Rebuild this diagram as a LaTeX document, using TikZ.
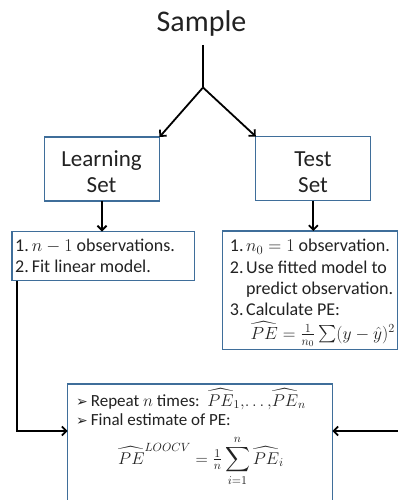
\documentclass[tikz,border=0pt]{standalone}
\usepackage{fix-cm}
\usepackage{amsmath}
\usepackage{fontspec}
\setmainfont{Carlito}
\newfontfamily\dejavu{DejaVu Sans}
\usetikzlibrary{arrows.meta}
\definecolor{boxblue}{HTML}{3F6E9A}
\definecolor{ink}{HTML}{222222}
\begin{document}
\begin{tikzpicture}[x=1pt,y=-1pt,
  box/.style={draw=boxblue,line width=1.1pt,inner sep=0pt,outer sep=0pt,fill=white},
  conn/.style={line width=1.8pt,draw=black},
  arr/.style={conn,-{Straight Barb[length=4.5pt,width=9pt]}},
  txt/.style={anchor=base west,inner sep=0pt,text=ink,font=\fontsize{18}{21}\selectfont},
  stxt/.style={anchor=base west,inner sep=0pt,text=ink,font=\fontsize{17}{20}\selectfont},
  big/.style={anchor=base,inner sep=0pt,text=ink,font=\fontsize{23}{28}\selectfont},
  title/.style={anchor=base,inner sep=0pt,text=ink,font=\fontsize{30}{36}\selectfont},
  frm/.style={anchor=base,inner sep=0pt,text=ink,font=\fontsize{17}{20}\selectfont}]
\useasboundingbox (0,0) rectangle (398,500);
\clip (0,0) rectangle (398,500);
% title
\node[title] (sample) at (201.5,32) {Sample};
\coordinate (stem) at (203,45);
\coordinate (fork) at (203,87.5);
% boxes
\node[box,minimum width=115pt,minimum height=64pt] (learn) at (102,169) {};
\node[box,minimum width=115pt,minimum height=64pt] (test) at (313.3,168.5) {};
\node[box,minimum width=182.5pt,minimum height=49pt] (box1) at (103.25,256) {};
\node[box,minimum width=175pt,minimum height=118.5pt] (box2) at (310,290.25) {};
\node[box,minimum width=264.6pt,minimum height=140pt] (box3) at (200,454) {};
% box texts
\node[big] (learnA) at (101.5,166.7) {Learning};
\node[big] (learnB) at (101.5,192.7) {Set};
\node[big] (testA) at (313,166.7) {Test};
\node[big] (testB) at (313,192.7) {Set};
\node[txt] (b1a) at (15,251.7) {1.\,$n-1$ observations.};
\node[txt] (b1b) at (15,272) {2.\,Fit linear model.};
\node[txt] (b2a) at (229.7,251.7) {\makebox[16.3pt][l]{1.}$n_0=1$ observation.};
\node[txt] (b2b) at (229.7,273) {\makebox[16.3pt][l]{2.}Use fitted model to};
\node[txt] (b2c) at (229.7,294.3) {\makebox[16.3pt][l]{}predict observation.};
\node[txt] (b2d) at (229.7,315.6) {\makebox[16.3pt][l]{3.}Calculate PE:};
\node[frm,anchor=base west,font=\fontsize{17.6}{20}\selectfont] (b2e) at (250.5,339) {$\widehat{PE}=\frac{1}{n_0}\sum(y-\hat{y})^2$};
\node[stxt] (b3a) at (76,406) {\makebox[14.7pt][l]{\dejavu\fontsize{14}{14}\selectfont ➢}Repeat $n$ times:\ \ $\widehat{PE}_1,\!\ldots,\!\widehat{PE}_n$};
\node[stxt] (b3b) at (76,425.5) {\makebox[14.7pt][l]{\dejavu\fontsize{14}{14}\selectfont ➢}Final estimate of PE:};
\node[frm] (b3c) at (201,464) {$\widehat{PE}^{LOOCV}=\tfrac{1}{n}\displaystyle\sum_{i=1}^{n}\widehat{PE}_i$};
% connectors
\draw[conn] (stem) -- (fork);
\draw[arr] (fork) -- (learn.north east);
\draw[arr] (fork) -- (test.north west);
\draw[arr] (learn.south) -- (learn.south |- box1.north);
\draw[arr] (test.south) -- (test.south |- box2.north);
\coordinate (lj) at (17,431);
\coordinate (rj) at (400,431);
\draw[arr] (box1.south -| lj) -- (lj) -- (lj -| box3.west);
\draw[arr] (rj) -- (rj -| box3.east);
\end{tikzpicture}
\end{document}
